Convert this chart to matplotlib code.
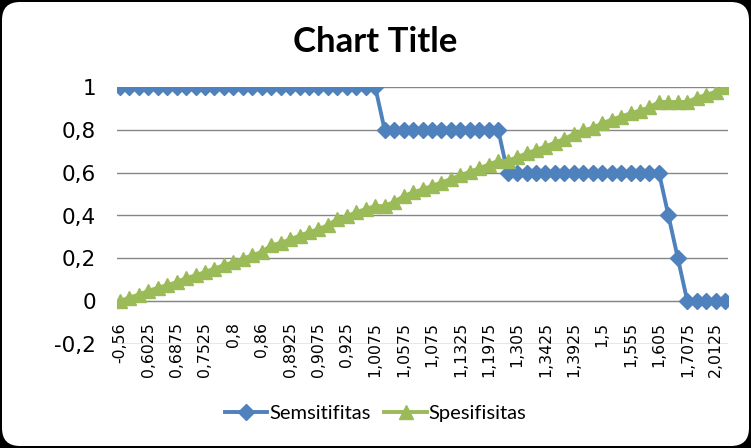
import matplotlib

matplotlib.use("Agg")
import matplotlib.pyplot as plt
from matplotlib.patches import FancyBboxPatch

# cut-off labels shown on the category axis (every third category)
cutoff_labels = ["-0,56", "0,6025", "0,6875", "0,7525", "0,8", "0,86",
                 "0,8925", "0,9075", "0,925", "1,0075", "1,0575", "1,075",
                 "1,1325", "1,1975", "1,305", "1,3425", "1,3925", "1,5",
                 "1,555", "1,605", "1,7075", "2,0125"]

sensitivity = [1, 1, 1, 1, 1, 1, 1, 1, 1, 1, 1, 1, 1, 1, 1, 1, 1, 1, 1, 1,
               1, 1, 1, 1, 1, 1, 1, 1,
               0.8, 0.8, 0.8, 0.8, 0.8, 0.8, 0.8, 0.8, 0.8, 0.8, 0.8, 0.8, 0.8,
               0.6, 0.6, 0.6, 0.6, 0.6, 0.6, 0.6, 0.6, 0.6, 0.6, 0.6, 0.6,
               0.6, 0.6, 0.6, 0.6, 0.6,
               0.4, 0.2, 0, 0, 0, 0, 0]

specificity = [0, 0.017, 0.03, 0.048, 0.062, 0.075, 0.088, 0.108, 0.12,
               0.136, 0.152, 0.168, 0.182, 0.198, 0.214, 0.23, 0.26, 0.272,
               0.288, 0.306, 0.322, 0.336, 0.355, 0.384, 0.397, 0.415, 0.43,
               0.444, 0.444, 0.464, 0.49, 0.508, 0.522, 0.538, 0.554, 0.57,
               0.588, 0.604, 0.62, 0.638, 0.655, 0.655, 0.672, 0.69, 0.706,
               0.722, 0.74, 0.758, 0.78, 0.797, 0.81, 0.83, 0.848, 0.862,
               0.877, 0.89, 0.905, 0.93, 0.93, 0.93, 0.93, 0.95, 0.963,
               0.978, 1.0]

y_ticks = [-0.2, 0, 0.2, 0.4, 0.6, 0.8, 1]
y_labels = ["-0,2", "0", "0,2", "0,4", "0,6", "0,8", "1"]

BLUE = "#4F81BD"
GREEN = "#9BBB59"
GRID = "#868686"

plt.rcParams["font.family"] = ["Lato", "DejaVu Sans"]

fig = plt.figure(figsize=(7.51, 4.48), dpi=100)
fig.patch.set_facecolor("black")
W, H = 751, 448
bg = FancyBboxPatch((2, 2), W - 4, H - 4,
                    boxstyle="round,pad=0,rounding_size=18",
                    transform=None, facecolor="white", edgecolor="none",
                    zorder=-10)
fig.patches.append(bg)

ax = fig.add_axes([117 / W, 1 - 344 / H, 611 / W, 257 / H])
ax.set_facecolor("none")

x = list(range(len(sensitivity)))
ax.plot(x, sensitivity, "-", color=BLUE, lw=2.8, marker="D", ms=7.8,
        mec=BLUE, mfc=BLUE, label="Semsitifitas", zorder=3)
ax.plot(x, specificity, "-", color=GREEN, lw=2.8, marker="^", ms=10,
        mec=GREEN, mfc=GREEN, label="Spesifisitas", zorder=4)

ax.set_xlim(-0.3, len(x) - 1 + 0.3)
ax.set_ylim(-0.2, 1)
ax.set_yticks(y_ticks)
ax.set_yticklabels(y_labels, family="DejaVu Sans")
ax.yaxis.grid(True, color=GRID, lw=1)
ax.set_axisbelow(True)

for s in ["top", "right", "left"]:
    ax.spines[s].set_visible(False)
ax.spines["bottom"].set_position(("data", 0))
ax.spines["bottom"].set_color(GRID)

ax.set_xticks(list(range(0, len(x), 3)))
ax.set_xticklabels(cutoff_labels, family="DejaVu Sans")
ax.tick_params(axis="x", length=0, pad=15, labelsize=11.3, labelrotation=90)
ax.tick_params(axis="y", length=0, pad=15, labelsize=15.5)

fig.text(0.5, 1 - 42 / H, "Chart Title", ha="center", va="center",
         fontsize=25, fontweight="bold")

fig.legend(loc="center", bbox_to_anchor=(0.5, 1 - 413 / H), ncol=2,
           frameon=False, fontsize=14.5, handlelength=2.1, handletextpad=0.1,
           columnspacing=0.7)

fig.savefig("out.png", dpi=100, facecolor=fig.get_facecolor())
